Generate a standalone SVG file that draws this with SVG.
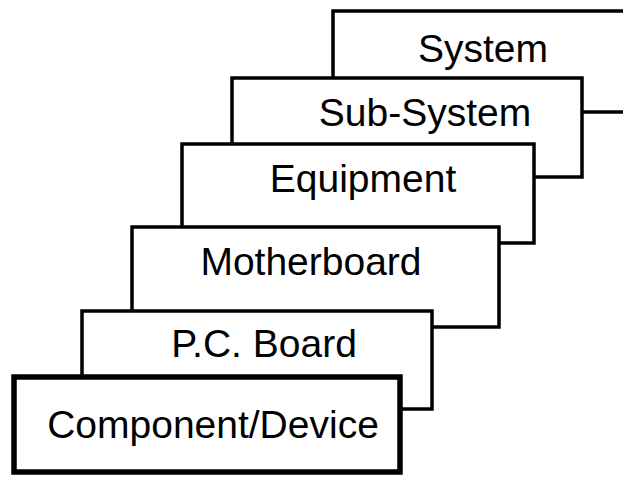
<svg xmlns="http://www.w3.org/2000/svg" width="623" height="477" viewBox="0 0 623 477">
<style>
.box{fill:#fff;stroke:#000;stroke-width:3.5}
.thick{stroke-width:5.5}
text{font-family:"Liberation Sans",Arial,sans-serif;font-size:39px;fill:#000;text-anchor:middle}
</style>
<rect width="623" height="477" fill="#fff"/>
<g id="system"><rect class="box" x="333" y="11" width="310" height="101"/><text x="483" y="62">System</text></g>
<g id="subsystem"><rect class="box" x="232" y="78" width="350" height="99"/><text x="425" y="126">Sub-System</text></g>
<g id="equipment"><rect class="box" x="182" y="144" width="352" height="99"/><text x="363" y="192">Equipment</text></g>
<g id="motherboard"><rect class="box" x="132" y="227" width="367" height="100"/><text x="311" y="275">Motherboard</text></g>
<g id="pcboard"><rect class="box" x="82" y="311" width="350" height="98"/><text x="264" y="357">P.C. Board</text></g>
<g id="component"><rect class="box thick" x="14" y="377" width="386" height="95"/><text x="213" y="438">Component/Device</text></g>
<g id="connectors"></g>
</svg>
